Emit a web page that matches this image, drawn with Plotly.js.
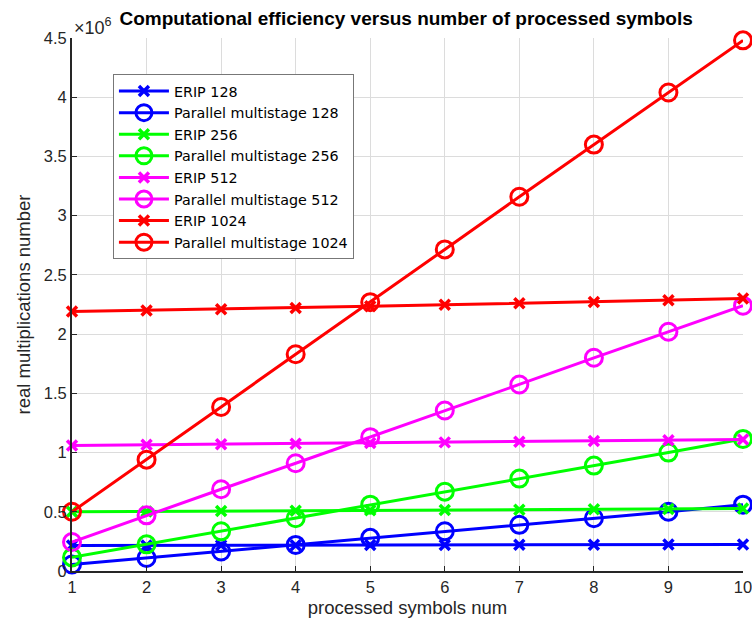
<!DOCTYPE html>
<html>
<head>
<meta charset="utf-8">
<script src="https://cdn.plot.ly/plotly-3.0.1.min.js"></script>
<style>html,body{margin:0;padding:0;background:#fff;}#chart{width:752px;height:625px;}</style>
</head>
<body>
<div id="chart"></div>
<script>
// Values in units of 10^6 real multiplications
const symbols = [1, 2, 3, 4, 5, 6, 7, 8, 9, 10];
const erip128 = [0.215, 0.216, 0.217, 0.218, 0.219, 0.220, 0.221, 0.222, 0.223, 0.224];
const par128 = [0.055, 0.11, 0.165, 0.22, 0.28, 0.335, 0.39, 0.445, 0.50, 0.56];
const erip256 = [0.50, 0.503, 0.506, 0.509, 0.512, 0.515, 0.518, 0.521, 0.524, 0.527];
const par256 = [0.115, 0.225, 0.335, 0.445, 0.56, 0.67, 0.78, 0.89, 1.00, 1.115];
const erip512 = [1.06, 1.065, 1.07, 1.075, 1.08, 1.086, 1.091, 1.097, 1.103, 1.11];
const par512 = [0.245, 0.47, 0.69, 0.91, 1.13, 1.355, 1.575, 1.80, 2.02, 2.24];
const erip1024 = [2.19, 2.20, 2.21, 2.22, 2.235, 2.248, 2.26, 2.272, 2.285, 2.30];
const par1024 = [0.50, 0.94, 1.385, 1.83, 2.27, 2.715, 3.16, 3.60, 4.04, 4.48];
const yTickVals = [0, 0.5, 1, 1.5, 2, 2.5, 3, 3.5, 4, 4.5];
const yTickText = ['0', '0.5', '1', '1.5', '2', '2.5', '3', '3.5', '4', '4.5'];

function eripTrace(name, y, color) {
  return {x: symbols, y: y, name: name, type: 'scatter', mode: 'lines+markers', cliponaxis: false,
    line: {color: color, width: 3},
    marker: {symbol: 'x-thin-open', size: 10, color: color, line: {color: color, width: 3.5}}};
}
function parTrace(name, y, color) {
  return {x: symbols, y: y, name: name, type: 'scatter', mode: 'lines+markers', cliponaxis: false,
    line: {color: color, width: 3},
    marker: {symbol: 'circle-open', size: 17, color: color, line: {color: color, width: 3}}};
}
const data = [
  eripTrace('ERIP 128', erip128, '#0000ff'),
  parTrace('Parallel multistage 128', par128, '#0000ff'),
  eripTrace('ERIP 256', erip256, '#00ff00'),
  parTrace('Parallel multistage 256', par256, '#00ff00'),
  eripTrace('ERIP 512', erip512, '#ff00ff'),
  parTrace('Parallel multistage 512', par512, '#ff00ff'),
  eripTrace('ERIP 1024', erip1024, '#ff0000'),
  parTrace('Parallel multistage 1024', par1024, '#ff0000')
];
const fontFam = 'Liberation Sans, Arial, sans-serif';
const layout = {
  width: 752, height: 625,
  margin: {l: 72, r: 9, t: 38, b: 54},
  paper_bgcolor: '#ffffff', plot_bgcolor: '#ffffff',
  font: {family: fontFam, color: '#262626', size: 16},
  title: {text: '<b>Computational efficiency versus number of processed symbols</b>',
    font: {family: fontFam, size: 19, color: '#000000'}, x: 0.54, xanchor: 'center', y: 0.97, yanchor: 'middle'},
  xaxis: {range: [1, 10], tickvals: symbols, showgrid: true, gridcolor: '#dcdcdc', gridwidth: 1,
    zeroline: false, showline: true, linecolor: '#262626', linewidth: 2, ticks: 'inside', ticklen: 5, tickcolor: '#262626',
    tickfont: {size: 16.5, color: '#262626'}, ticklabeloverflow: 'allow',
    title: {text: 'processed symbols num', font: {size: 18.5, color: '#262626'}, standoff: 6}},
  yaxis: {range: [0, 4.5], tickvals: yTickVals, ticktext: yTickText, showgrid: true, gridcolor: '#dcdcdc', gridwidth: 1,
    zeroline: false, showline: true, linecolor: '#262626', linewidth: 2, ticks: 'inside', ticklen: 5, tickcolor: '#262626',
    tickfont: {size: 16.5, color: '#262626'}, ticklabeloverflow: 'allow',
    title: {text: 'real multiplications number', font: {size: 18.5, color: '#262626'}, standoff: 8}},
  legend: {x: 0.061, y: 0.932, xanchor: 'left', yanchor: 'top', bgcolor: '#ffffff', bordercolor: '#777777', borderwidth: 1,
    font: {family: 'DejaVu Sans, sans-serif', size: 14.3, color: '#000000'}, itemwidth: 50, tracegroupgap: 0},
  showlegend: true,
  annotations: [{xref: 'paper', yref: 'paper', x: 0.0, y: 1.0, xanchor: 'left', yanchor: 'bottom', yshift: -2,
    text: '×10<sup>6</sup>', showarrow: false, font: {size: 18, color: '#262626'}}]
};
Plotly.newPlot('chart', data, layout, {displayModeBar: false, staticPlot: true});
</script>
</body>
</html>
